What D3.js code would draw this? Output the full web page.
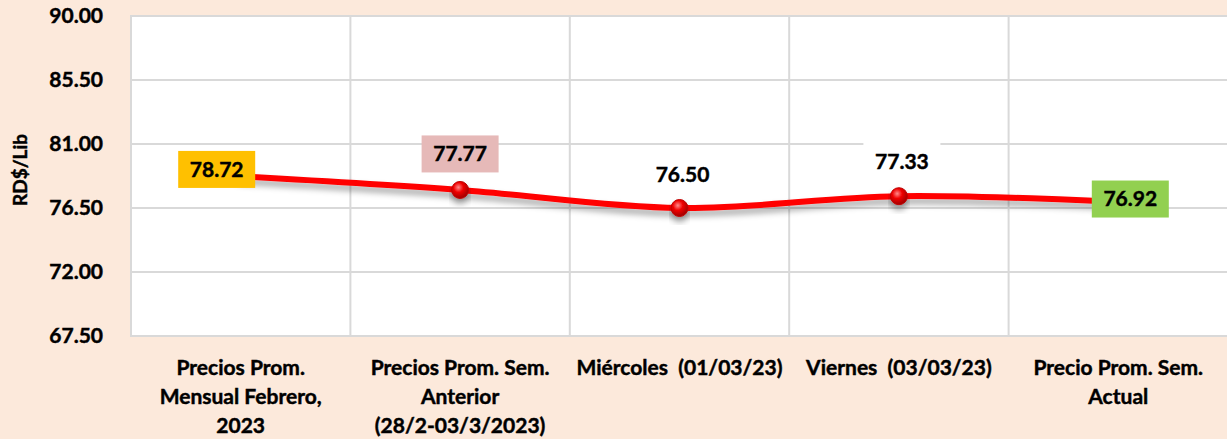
<!DOCTYPE html>
<html><head><meta charset="utf-8">
<script src="https://cdn.jsdelivr.net/npm/d3@7"></script>
<style>
html,body{margin:0;padding:0;background:#FCE9DB;}
svg{display:block;font-family:Lato,"Open Sans",sans-serif;font-weight:700;}
text{stroke:#000;stroke-width:0.45px;}
</style></head>
<body>
<svg id="c" width="1227" height="439"></svg>
<script>
const categories = [
  ["Precios Prom.", "Mensual Febrero,", "2023"],
  ["Precios Prom. Sem.", "Anterior", "(28/2-03/3/2023)"],
  ["Miércoles\u00a0\u00a0(01/03/23)"],
  ["Viernes\u00a0\u00a0(03/03/23)"],
  ["Precio Prom. Sem.", "Actual"]
];
const values = [78.72, 77.77, 76.50, 77.33, 76.92];
const yTicks = [67.50, 72.00, 76.50, 81.00, 85.50, 90.00];
const yTitle = "RD$/Lib";

// styling config (not data)
const labelFills = ["#FFC000", "#E6B9B8", "none", "#FFFFFF", "#92D050"];
const labelDx = [-24, 0, 3, 3, 12];
const labelDy = [-7, -36, -33, -35, -3];
const showMarker = [false, true, true, true, false];

const W = 1227, H = 439;
const m = {left: 131, top: 16, right: -1, bottom: 103};
const svg = d3.select("#c");
const defs = svg.append("defs");
const f = defs.append("filter").attr("id","sh").attr("x","-10%").attr("y","-50%").attr("width","120%").attr("height","200%");
f.append("feDropShadow").attr("dx",0).attr("dy",5).attr("stdDeviation",3).attr("flood-color","#000").attr("flood-opacity",0.35);
const rg = defs.append("radialGradient").attr("id","ball").attr("cx","40%").attr("cy","35%").attr("r","65%");
rg.append("stop").attr("offset","0%").attr("stop-color","#FF8A8A");
rg.append("stop").attr("offset","45%").attr("stop-color","#F00000");
rg.append("stop").attr("offset","100%").attr("stop-color","#A00000");

const x = d3.scaleBand().domain(d3.range(categories.length)).range([m.left, W - m.right]);
const y = d3.scaleLinear().domain([67.5, 90]).range([H - m.bottom, m.top]);

// plot area
svg.append("rect").attr("x", m.left).attr("y", m.top).attr("width", W - m.right - m.left).attr("height", H - m.bottom - m.top).attr("fill", "#fff").attr("stroke","#D9D9D9").attr("stroke-width",2);

// horizontal grid
svg.append("g").selectAll("line").data(yTicks).join("line")
  .attr("x1", m.left).attr("x2", W - m.right).attr("y1", d => y(d)).attr("y2", d => y(d))
  .attr("stroke", "#D9D9D9").attr("stroke-width", 2);
// vertical grid
svg.append("g").selectAll("line").data(d3.range(1, categories.length)).join("line")
  .attr("x1", d => x(d)).attr("x2", d => x(d)).attr("y1", m.top).attr("y2", H - m.bottom)
  .attr("stroke", "#D9D9D9").attr("stroke-width", 2);

// y axis
const yAxis = d3.axisLeft(y).tickValues(yTicks).tickFormat(d3.format(".2f")).tickSize(0).tickPadding(28);
const gy = svg.append("g").attr("transform", `translate(${m.left},0)`).call(yAxis);
gy.select(".domain").remove();
gy.selectAll("text").attr("font-size", 21).attr("font-weight",700).attr("fill","#000").attr("font-family","Lato");

svg.append("text").attr("transform", `translate(27,170) rotate(-90)`).attr("text-anchor","middle")
  .attr("font-size", 19).attr("fill","#000").text(yTitle);

// x labels
const gx = svg.append("g");
categories.forEach((lines, i) => {
  const t = gx.append("text").attr("text-anchor","middle").attr("font-size",21).attr("fill","#000");
  lines.forEach((ln, j) => {
    t.append("tspan").attr("x", x(i) + x.bandwidth()/2).attr("y", 375 + j*29).text(ln);
  });
});

// line
const pts = values.map((v,i) => [x(i) + x.bandwidth()/2, y(v)]);
const line = d3.line().curve(d3.curveCatmullRom.alpha(0));
svg.append("path").attr("d", line(pts)).attr("fill","none").attr("stroke","#FF0000").attr("stroke-width",6)
  .attr("stroke-linecap","round").attr("filter","url(#sh)");

// markers
svg.append("g").selectAll("circle").data(values.map((v,i)=>({v,i})).filter(d=>showMarker[d.i])).join("circle")
  .attr("cx", d => x(d.i) + x.bandwidth()/2).attr("cy", d => y(d.v)).attr("r", 8.5)
  .attr("fill","url(#ball)").attr("stroke","#C00000").attr("stroke-width",1).attr("filter","url(#sh)");

// labels
const fmt = d3.format(".2f");
values.forEach((v,i) => {
  const cx = x(i) + x.bandwidth()/2 + labelDx[i];
  const cy = y(v) + labelDy[i];
  if (labelFills[i] !== "none") {
    svg.append("rect").attr("x", cx - 38.5).attr("y", cy - 18.5).attr("width", 77).attr("height", 37).attr("fill", labelFills[i]);
  }
  svg.append("text").attr("x", cx).attr("y", cy).attr("dy","0.35em").attr("text-anchor","middle")
    .attr("font-size", 21).attr("fill","#000").text(fmt(v));
});
</script>
</body></html>
